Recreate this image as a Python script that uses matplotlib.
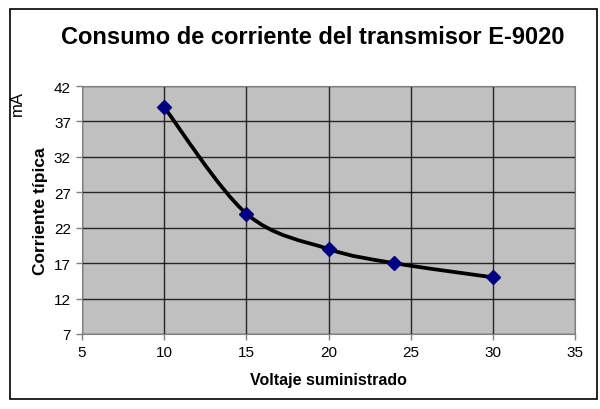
"""Consumo de corriente del transmisor E-9020 - Excel-style smooth XY chart."""

import matplotlib
matplotlib.use("Agg")
import matplotlib.pyplot as plt
from matplotlib.path import Path
from matplotlib.patches import PathPatch, Rectangle

plt.rcParams["font.family"] = ["Liberation Sans", "DejaVu Sans"]

VOLTAJE   = [10, 15, 20, 24, 30]
CORRIENTE = [39, 24, 19, 17, 15]
X_TICKS   = [5, 10, 15, 20, 25, 30, 35]
Y_TICKS   = [7, 12, 17, 22, 27, 32, 37, 42]


def spline_path(xs, ys):
    """Bezier path through the points, same smoothing Excel uses."""
    pts = list(zip(xs, ys))
    n = len(pts)
    verts = [pts[0]]
    codes = [Path.MOVETO]
    for i in range(n - 1):
        p0 = pts[max(i - 1, 0)]
        p1 = pts[i]
        p2 = pts[i + 1]
        p3 = pts[min(i + 2, n - 1)]
        c1 = (p1[0] + (p2[0] - p0[0]) / 6, p1[1] + (p2[1] - p0[1]) / 6)
        c2 = (p2[0] - (p3[0] - p1[0]) / 6, p2[1] - (p3[1] - p1[1]) / 6)
        verts += [c1, c2, p2]
        codes += [Path.CURVE4] * 3
    return Path(verts, codes)


fig = plt.figure(figsize=(6, 4.1), dpi=100)
fig.patches.append(Rectangle((10 / 600, 10 / 410), 587 / 600, 390 / 410,
                             transform=fig.transFigure, fill=False,
                             edgecolor="black", lw=1.2))

ax = fig.add_axes([82 / 600, 75 / 410, 493 / 600, 248 / 410])
ax.set_facecolor("#C0C0C0")
ax.set_xlim(5, 35)
ax.set_ylim(7, 42)
ax.set_xticks(X_TICKS)
ax.set_yticks(Y_TICKS)
ax.grid(True, color="black", lw=1.0, alpha=0.8)
ax.set_axisbelow(True)
for side in ax.spines:
    ax.spines[side].set_color("#808080")
ax.tick_params(direction="out", length=4, width=1, color="#808080",
               labelsize=11, pad=4)

ax.add_patch(PathPatch(spline_path(VOLTAJE, CORRIENTE), fill=False,
                       edgecolor="black", lw=2.7, zorder=3))
ax.plot(VOLTAJE, CORRIENTE, ls="none", marker="D", ms=7.5,
        color="#000080", mec="#000080", zorder=4)

ax.set_xlabel("Voltaje suministrado", fontsize=11.5, fontweight="bold", labelpad=9)
ax.set_ylabel("Corriente típica", fontsize=12.5, fontweight="bold", labelpad=4)
fig.text(17 / 600, 1 - 103 / 410, "mA", rotation=90, fontsize=12,
         ha="center", va="center")
fig.text(313 / 600, 1 - 37 / 410, "Consumo de corriente del transmisor E-9020",
         fontsize=17, fontweight="bold", ha="center", va="center")

fig.savefig("out.png", dpi=100)
plt.close(fig)
